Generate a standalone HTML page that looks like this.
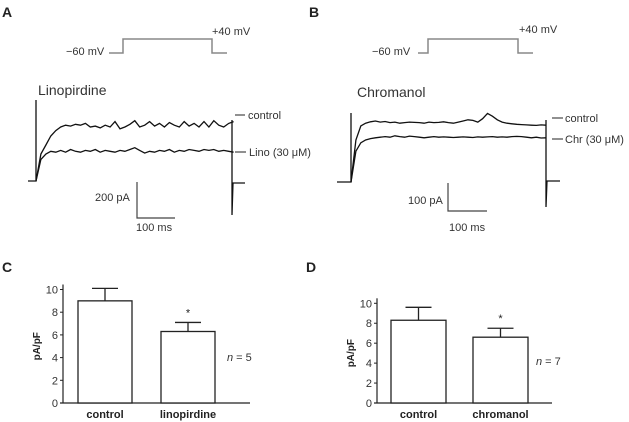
<!DOCTYPE html>
<html><head><meta charset="utf-8"><style>
html,body{margin:0;padding:0;background:#fff;}
svg{display:block;font-family:"Liberation Sans",Arial,sans-serif;}
</style></head><body>
<svg id="fig" width="629" height="422" viewBox="0 0 629 422">
<g font-weight="bold" font-size="14" fill="#222">
<text x="2" y="17">A</text>
<text x="309" y="17">B</text>
<text x="2" y="272">C</text>
<text x="306" y="272">D</text>
</g>
<g font-size="11" fill="#333">
<text x="66" y="55">−60 mV</text>
<text x="212" y="35">+40 mV</text>
<polyline points="109,53 123,53 123,39 212,39 212,53 227,53" fill="none" stroke="#888" stroke-width="1.5"/>
<text x="372" y="55">−60 mV</text>
<text x="519" y="33">+40 mV</text>
<polyline points="418,53 428,53 428,39 518,39 518,53 533,53" fill="none" stroke="#888" stroke-width="1.5"/>
<text x="38" y="95" font-size="14">Linopirdine</text>
<text x="357" y="97" font-size="14">Chromanol</text>
<line x1="235" y1="115" x2="245" y2="115" stroke="#222"/>
<text x="248" y="119">control</text>
<line x1="235" y1="152" x2="246" y2="152" stroke="#222"/>
<text x="249" y="156">Lino (30 μM)</text>
<line x1="552" y1="118" x2="563" y2="118" stroke="#222"/>
<text x="565" y="122">control</text>
<line x1="552" y1="139" x2="563" y2="139" stroke="#222"/>
<text x="565" y="143">Chr (30 μM)</text>
<polyline points="137,182 137,218 175,218" fill="none" stroke="#444" stroke-width="1.2"/>
<text x="95" y="201">200 pA</text>
<text x="136" y="231">100 ms</text>
<polyline points="448,183 448,211 487,211" fill="none" stroke="#444" stroke-width="1.2"/>
<text x="408" y="204">100 pA</text>
<text x="449" y="231">100 ms</text>
</g>
<g id="traces"></g>
<g id="bars"></g>
</svg>
<script>
const ns="http://www.w3.org/2000/svg";
// trace data (pA)
const aControl=[0,150,200,250,280,300,310,305,315,310,320,300,305,295,310,300,330,290,300,315,335,300,310,330,305,320,300,325,310,300,330,305,320,300,330,300,335,310,300,320,330];
const aLino=[0,120,150,165,160,170,160,175,165,160,170,165,175,160,170,165,160,170,165,175,185,170,155,165,160,170,165,175,160,170,165,175,170,165,175,170,175,165,170,165,160];
const bControl=[0,150,200,210,215,218,214,216,212,214,210,212,214,213,212,210,214,212,213,215,212,210,214,218,222,220,214,226,245,235,222,214,210,208,206,205,204,203,202,204,203];
const bChr=[0,110,140,150,155,158,160,162,160,165,162,160,164,162,160,158,160,162,160,161,160,159,160,161,160,159,161,160,161,162,160,161,160,162,163,162,160,158,160,157,158];
// bar data
const catsC=["control","linopirdine"];
const meanC=[9.0,6.3];
const semC=[1.1,0.8];
const catsD=["control","chromanol"];
const meanD=[8.3,6.6];
const semD=[1.3,0.9];
const yTicks=[0,2,4,6,8,10];

const tg=document.getElementById('traces');
function mk(tag,attrs,parent){const e=document.createElementNS(ns,tag);for(const k in attrs)e.setAttribute(k,attrs[k]);parent.appendChild(e);return e;}
function trace(arr,x0,xs,dt,y0,ys,name){
  const pts=[];arr.forEach((v,i)=>pts.push((x0+i*dt*xs).toFixed(1)+","+(y0-v*ys).toFixed(1)));
  const p=mk('polyline',{points:pts.join(' '),fill:'none',stroke:'#111','stroke-width':1.3},tg);
  
  
}
const axs=0.38, ays=36/200;
trace(aControl,36,axs,13,181,ays,'trace-control-a');
trace(aLino,36,axs,13,181,ays,'trace-lino');
let e=mk('polyline',{points:"28,181 36,181 36,100 36,181",fill:'none',stroke:'#111','stroke-width':1.3},tg);


e=mk('polyline',{points:"232,120 232,215 233,183 245,183",fill:'none',stroke:'#111','stroke-width':1.3},tg);


const bxs=0.39, bys=28/100;
trace(bControl,351,bxs,12.5,182,bys,'trace-control-b');
trace(bChr,351,bxs,12.5,182,bys,'trace-chr');
e=mk('polyline',{points:"337,182 351,182 351,113 351,182",fill:'none',stroke:'#111','stroke-width':1.3},tg);


e=mk('polyline',{points:"546,120 546,207 547,181 560,181",fill:'none',stroke:'#111','stroke-width':1.3},tg);



const bg=document.getElementById('bars');
function barChart(p,cats,means,sems,key){
  const y=v=>p.y0-v*p.ys;
  let a=mk('line',{x1:p.ax,y1:y(10)-5,x2:p.ax,y2:p.y0,stroke:'#222','stroke-width':1.2},bg);
  
  
  a=mk('line',{x1:p.ax-3,y1:p.y0,x2:p.axEnd,y2:p.y0,stroke:'#222','stroke-width':1.2},bg);
  
  
  yTicks.forEach(t=>{
    const l=mk('line',{x1:p.ax-3,y1:y(t),x2:p.ax,y2:y(t),stroke:'#222'},bg);
    
    
    const tx=mk('text',{x:p.ax-5,y:y(t)+4,'text-anchor':'end','font-size':11,fill:'#333'},bg);
    tx.textContent=t;
    
    
  });
  const yt=mk('text',{x:0,y:0,'font-size':10,'font-weight':'bold',fill:'#222','text-anchor':'middle',transform:`translate(${p.ax-23},${y(5)}) rotate(-90)`},bg);
  yt.textContent='pA/pF';
  
  
  cats.forEach((c,i)=>{
    const x=p.bx[i], w=p.bw;
    const er=mk('polyline',{points:`${x+w/2},${y(means[i])} ${x+w/2},${y(means[i]+sems[i])} ${x+w/2-13},${y(means[i]+sems[i])} ${x+w/2+13},${y(means[i]+sems[i])}`,fill:'none',stroke:'#222','stroke-width':1.3},bg);
    
    
    const r=mk('rect',{x:x,y:y(means[i]),width:w,height:p.y0-y(means[i]),fill:'#fff',stroke:'#222','stroke-width':1.3},bg);
    
    
    const t=mk('text',{x:x+w/2,y:p.y0+15,'text-anchor':'middle','font-size':11,'font-weight':'bold',fill:'#222'},bg);
    t.textContent=c;
    
    
  });
  const s=mk('text',{x:p.bx[1]+p.bw/2,y:y(means[1]+sems[1])-6,'text-anchor':'middle','font-size':11,fill:'#222'},bg);
  s.textContent='*';
  
  
  const n=mk('text',{x:p.nx,y:p.ny,'font-size':11,fill:'#333'},bg);
  n.innerHTML='<tspan font-style="italic">n</tspan> = '+p.n;
  
  
}
barChart({ax:63,axEnd:250,y0:403,ys:11.35,bx:[78,161],bw:54,nx:227,ny:361,n:5},catsC,meanC,semC,'c');
barChart({ax:377,axEnd:552,y0:403,ys:9.97,bx:[391,473],bw:55,nx:536,ny:365,n:7},catsD,meanD,semD,'d');
</script>
</body></html>
